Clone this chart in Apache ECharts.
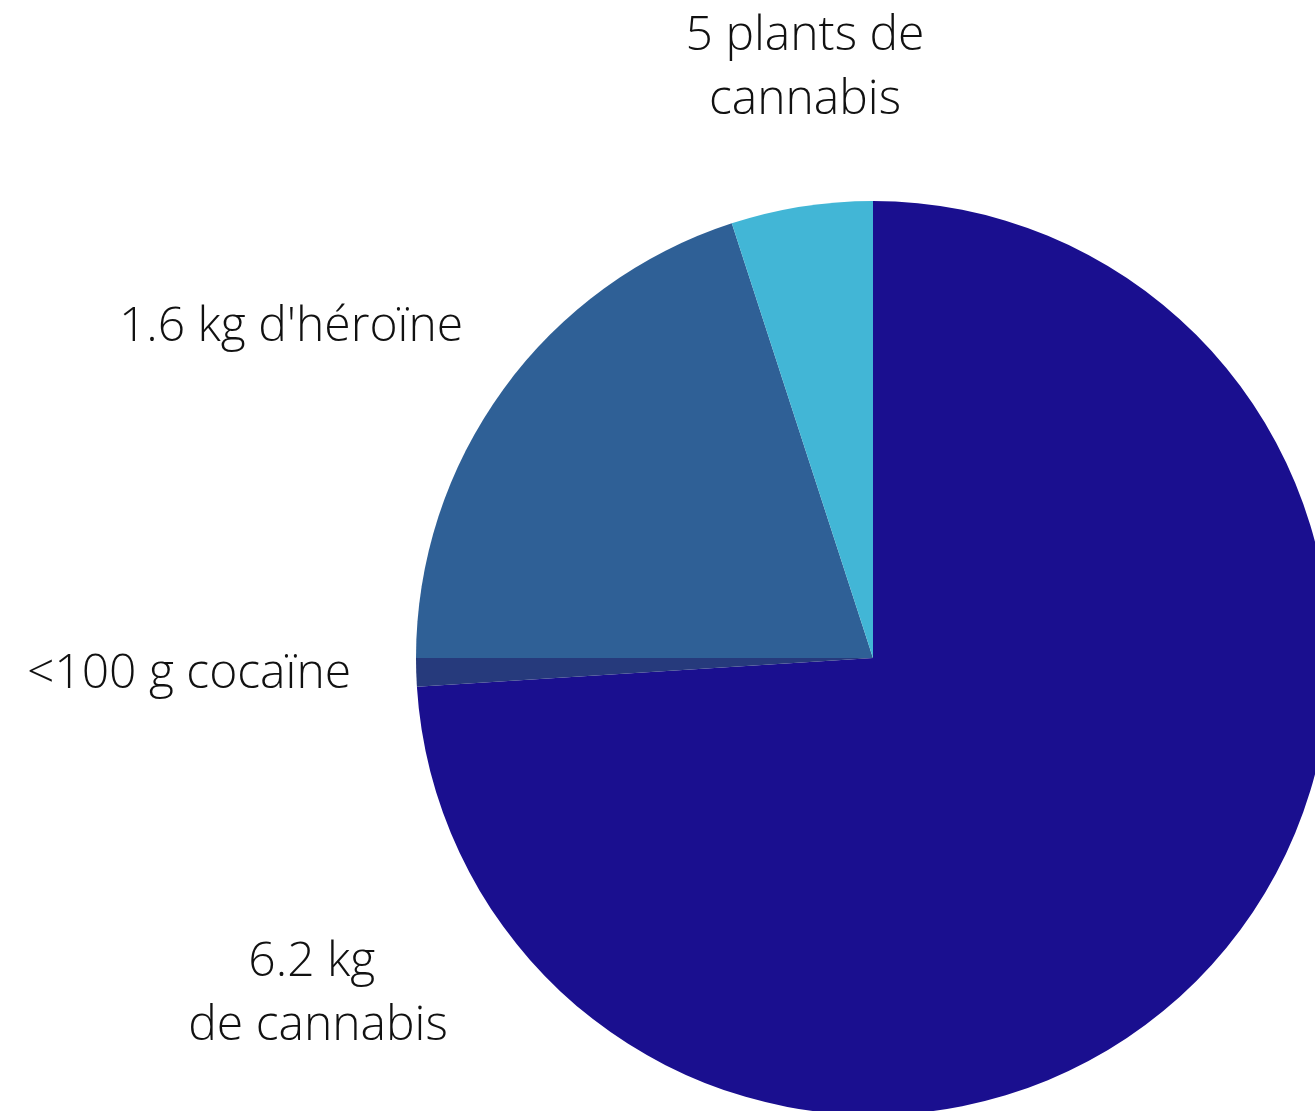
<!DOCTYPE html>
<html>
<head>
<meta charset="utf-8">
<script src="https://cdn.jsdelivr.net/npm/echarts@6/dist/echarts.min.js"></script>
<style>
html,body{margin:0;padding:0;background:#fff;}
#chart{width:1315px;height:1111px;}
</style>
</head>
<body>
<div id="chart"></div>
<script>
// Data (clockwise from 12 o'clock), shares in percent
const categories = ["6.2 kg \nde cannabis", "<100 g cocaïne", "1.6 kg d'héroïne", "5 plants de\ncannabis"];
const values = [74, 1, 20, 5];
const colors = ["#1a0f8f", "#263a7c", "#2f6096", "#42b6d6"];

// Label anchor positions (pixels), same order as categories
const labelPos = [[318, 994], [189, 674], [291, 327], [805, 68]];

const chart = echarts.init(document.getElementById('chart'), null, {renderer: 'canvas'});
chart.setOption({
  animation: false,
  series: [{
    type: 'pie',
    center: [873, 658],
    radius: [0, 457],
    startAngle: 90,
    clockwise: true,
    avoidLabelOverlap: false,
    data: categories.map((c, i) => ({name: c, value: values[i], itemStyle: {color: colors[i]}})),
    label: {
      show: true,
      formatter: '{b}',
      fontFamily: 'Open Sans',
      fontWeight: 300,
      fontSize: 48,
      lineHeight: 64,
      color: '#111',
      align: 'center'
    },
    labelLine: {show: false},
    labelLayout: function (p) {
      const pos = labelPos[p.dataIndex];
      return {x: pos[0], y: pos[1], align: 'center', verticalAlign: 'middle'};
    },
    emphasis: {disabled: true}
  }]
});
</script>
</body>
</html>
